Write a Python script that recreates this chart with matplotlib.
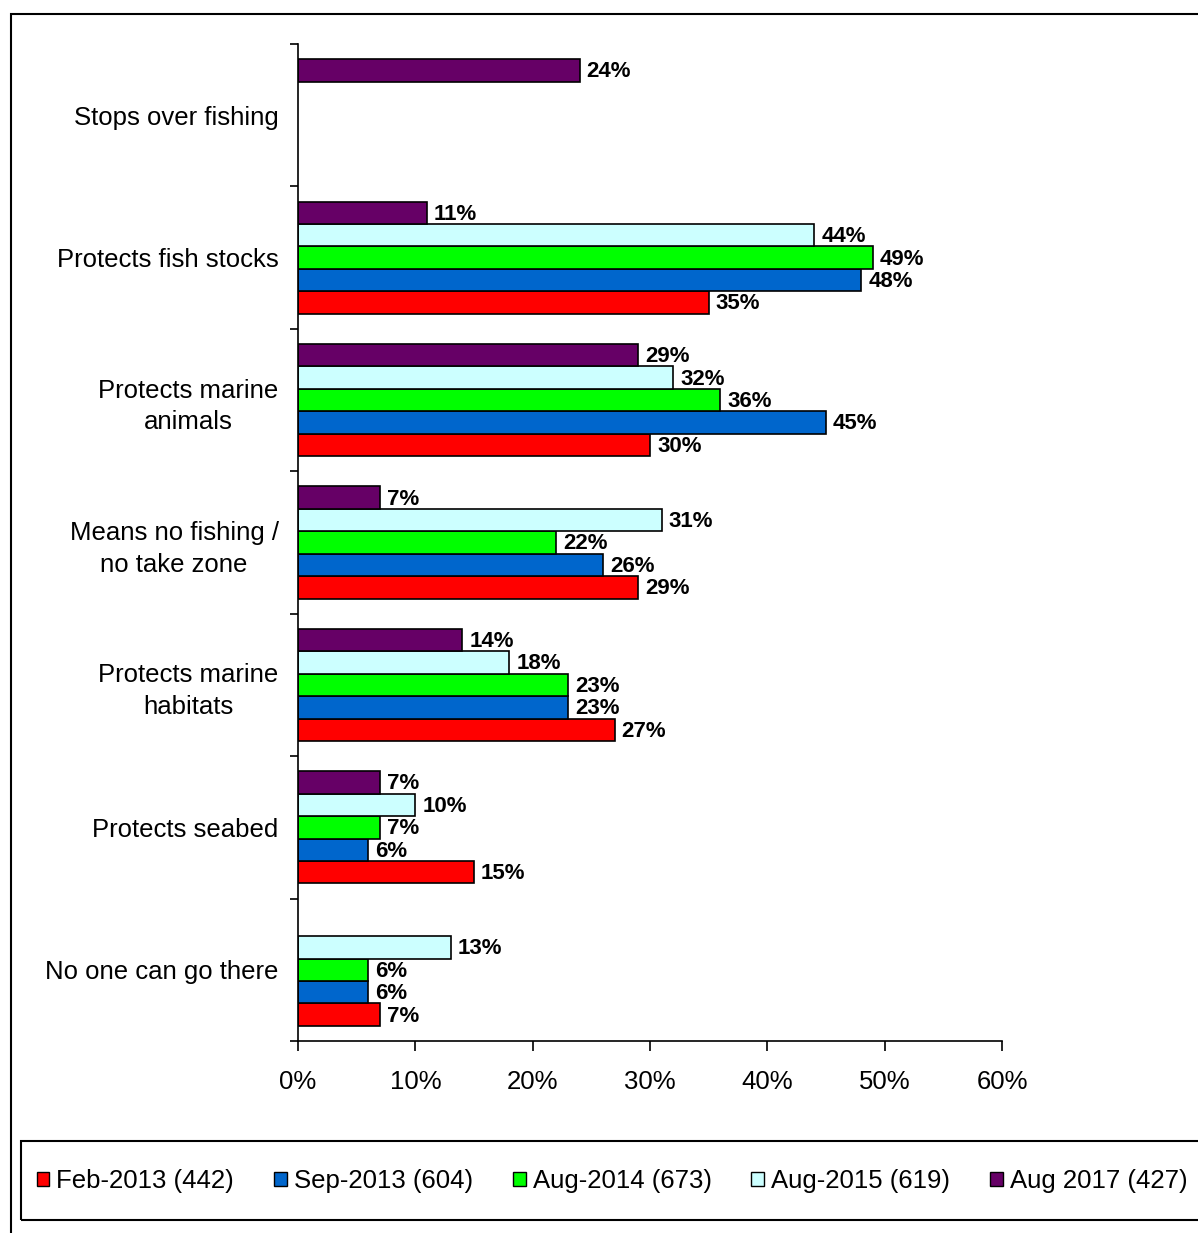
import matplotlib
matplotlib.use("Agg")
import matplotlib.pyplot as plt
from matplotlib.patches import Rectangle, Patch
import numpy as np

plt.rcParams['font.family'] = ['Liberation Sans', 'DejaVu Sans']

categories = [
    "Stops over fishing",
    "Protects fish stocks",
    "Protects marine\nanimals",
    "Means no fishing /\nno take zone",
    "Protects marine\nhabitats",
    "Protects seabed",
    "No one can go there",
]

series_names = [
    "Feb-2013 (442)",
    "Sep-2013 (604)",
    "Aug-2014 (673)",
    "Aug-2015 (619)",
    "Aug 2017 (427)",
]
series_colors = ["#FF0000", "#0066CC", "#00FF00", "#CCFFFF", "#660066"]

feb_2013 = [None, 35, 30, 29, 27, 15, 7]
sep_2013 = [None, 48, 45, 26, 23, 6, 6]
aug_2014 = [None, 49, 36, 22, 23, 7, 6]
aug_2015 = [None, 44, 32, 31, 18, 10, 13]
aug_2017 = [24, 11, 29, 7, 14, 7, None]
series_values = [feb_2013, sep_2013, aug_2014, aug_2015, aug_2017]

x_ticks = [0, 10, 20, 30, 40, 50, 60]

W, H = 1198, 1233
fig = plt.figure(figsize=(W / 100, H / 100), dpi=100)

# outer frame (open to the right and bottom)
fig.patches.append(Rectangle((11 / W, -0.05), 1.2, 1 - 13.5 / H + 0.05,
                             transform=fig.transFigure, fill=False,
                             edgecolor="black", linewidth=1.5))

ax = fig.add_axes([298 / W, 1 - 1041 / H, (1002 - 298) / W, (1041 - 44) / H])

bar_h = 0.1575
y_base = np.arange(len(categories))
for j, (vals, color) in enumerate(zip(series_values, series_colors)):
    offset = (2 - j) * bar_h  # first series sits lowest in each group
    for i, v in enumerate(vals):
        if v is None:
            continue
        y = y_base[i] + offset
        ax.barh(y, v, height=bar_h, color=color, edgecolor="black",
                linewidth=1.2, zorder=2)
        ax.annotate(f"{v}%", (v, y), xytext=(5, -1), textcoords="offset points",
                    ha="left", va="center", fontsize=16, fontweight="bold")

ax.set_xlim(0, 60)
ax.set_ylim(len(categories) - 0.5, -0.5)
ax.set_xticks(x_ticks)
ax.set_xticklabels([f"{t}%" for t in x_ticks], fontsize=18.5)
ax.tick_params(axis="x", direction="out", length=7, width=1.2, pad=14)

ax.set_yticks(y_base)
ax.set_yticklabels(categories, fontsize=18.5, multialignment="center",
                   linespacing=1.4)
ax.set_yticks(np.arange(-0.5, len(categories)), minor=True)
ax.tick_params(axis="y", which="major", length=0, pad=14)
ax.tick_params(axis="y", which="minor", direction="out", length=6, width=1.2)

for s in ("top", "right"):
    ax.spines[s].set_visible(False)
for s in ("left", "bottom"):
    ax.spines[s].set_linewidth(1.2)

# legend box spanning the bottom
fig.patches.append(Rectangle((21 / W, 1 - 1220 / H), 1.2, (1220 - 1141) / H,
                             transform=fig.transFigure, fill=False,
                             edgecolor="black", linewidth=1.5))
handles = [Patch(facecolor=c, edgecolor="black", linewidth=1.0) for c in series_colors]
fig.legend(handles, series_names, loc="center", ncol=5, frameon=False,
           bbox_to_anchor=(612 / W, 1 - 1181 / H), fontsize=18.5,
           handlelength=0.5, handleheight=0.5, handletextpad=0.27,
           columnspacing=1.55, borderaxespad=0)

fig.savefig("out.png", dpi=100)
